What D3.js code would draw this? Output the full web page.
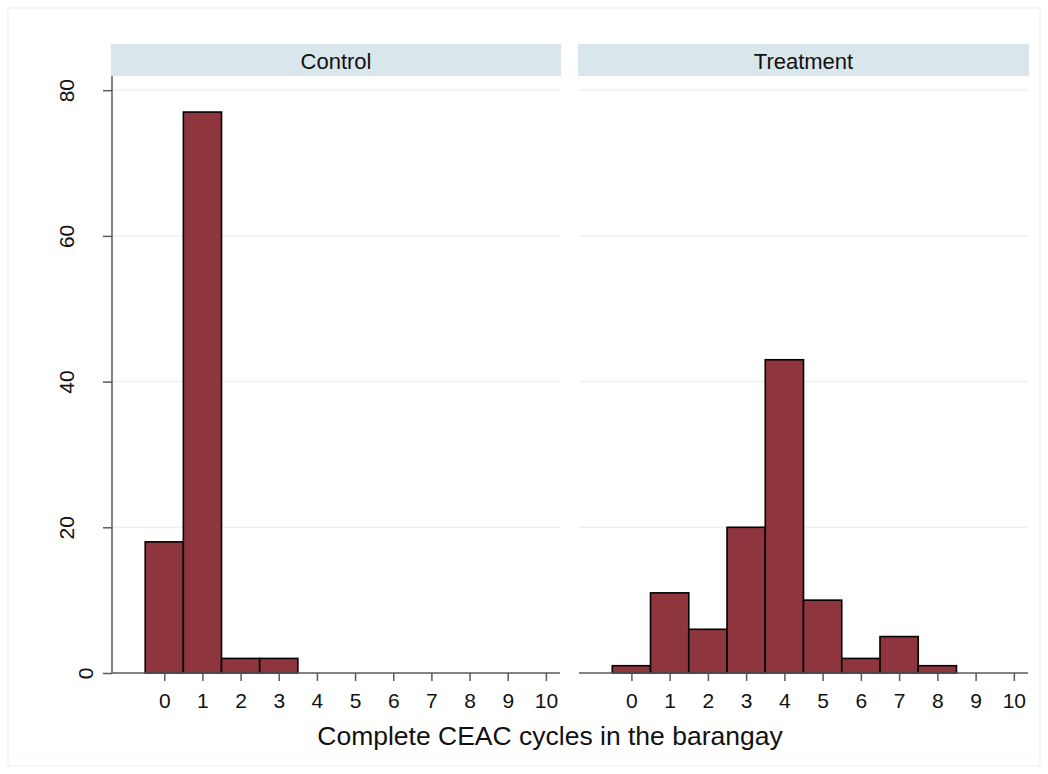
<!DOCTYPE html>
<html>
<head>
<meta charset="utf-8">
<script src="https://cdn.jsdelivr.net/npm/d3@7"></script>
<style>
  html, body { margin: 0; padding: 0; background: #ffffff; }
  svg { display: block; font-family: "Liberation Sans", Arial, Helvetica, sans-serif; }
</style>
</head>
<body>
<svg id="chart" width="1048" height="774"></svg>
<script>
// Histogram of completed CEAC cycles by barangay, split by study arm
const panels = ["Control", "Treatment"];
const cycles = [0, 1, 2, 3, 4, 5, 6, 7, 8, 9, 10];
const controlCounts = [18, 77, 2, 2, 0, 0, 0, 0, 0, 0, 0];
const treatmentCounts = [1, 11, 6, 20, 43, 10, 2, 5, 1, 0, 0];
const yTicks = [0, 20, 40, 60, 80];
const xTitle = "Complete CEAC cycles in the barangay";

const countsByPanel = { Control: controlCounts, Treatment: treatmentCounts };

const svg = d3.select("#chart");

// Outer graph region border
svg.append("rect")
  .attr("x", 8).attr("y", 8)
  .attr("width", 1032).attr("height", 758)
  .attr("fill", "#ffffff")
  .attr("stroke", "#eaf2f3")
  .attr("stroke-width", 1.2);

const plotTop = 76, plotBottom = 673;
const panelBoxes = [
  { left: 112, right: 560 },
  { left: 579, right: 1028 }
];

const y = d3.scaleLinear().domain([0, 80]).range([plotBottom, 90.2]);

const barFill = "#8f353d";
const axisColor = "#5a5a5a";
const gridColor = "#eaf2f3";

panels.forEach((name, i) => {
  const box = panelBoxes[i];
  const x = d3.scaleLinear().domain([-1.37, 10.37]).range([box.left, box.right]);
  const g = svg.append("g");

  // strip header
  g.append("rect")
    .attr("x", box.left - 1).attr("y", 44)
    .attr("width", box.right - box.left + 2).attr("height", 32)
    .attr("fill", "#d9e6eb");
  g.append("text")
    .attr("x", (box.left + box.right) / 2).attr("y", 69)
    .attr("text-anchor", "middle")
    .attr("font-size", 22)
    .attr("fill", "#111")
    .text(name);

  // horizontal gridlines
  g.selectAll("line.grid")
    .data(yTicks.filter(t => t > 0))
    .join("line")
    .attr("class", "grid")
    .attr("x1", box.left).attr("x2", box.right)
    .attr("y1", d => y(d)).attr("y2", d => y(d))
    .attr("stroke", gridColor)
    .attr("stroke-width", 1.5);

  // bars, one per integer bin
  const data = cycles.map((c, k) => ({ c, n: countsByPanel[name][k] })).filter(d => d.n > 0);
  g.selectAll("rect.bar")
    .data(data)
    .join("rect")
    .attr("class", "bar")
    .attr("x", d => x(d.c - 0.5))
    .attr("width", d => x(d.c + 0.5) - x(d.c - 0.5))
    .attr("y", d => y(d.n))
    .attr("height", d => y(0) - y(d.n))
    .attr("fill", barFill)
    .attr("stroke", "#000")
    .attr("stroke-width", 1.6);

  // x axis
  const xAxis = d3.axisBottom(x)
    .tickValues(cycles)
    .tickSize(8)
    .tickPadding(8)
    .tickFormat(d3.format("d"));
  const xg = g.append("g")
    .attr("transform", `translate(0,${plotBottom})`)
    .call(xAxis);
  xg.select(".domain")
    .attr("d", `M${box.left},0H${box.right}`)
    .attr("stroke", axisColor)
    .attr("stroke-width", 1.5);
  xg.selectAll(".tick line").attr("stroke", axisColor).attr("stroke-width", 1.5);
  xg.selectAll(".tick text")
    .attr("font-size", 21)
    .attr("font-family", "Liberation Sans, Arial, sans-serif")
    .attr("fill", "#111")
    .attr("dy", null)
    .attr("y", 35);

  // y axis only on the first panel
  if (i === 0) {
    const yAxis = d3.axisLeft(y)
      .tickValues(yTicks)
      .tickSize(9)
      .tickFormat(d3.format("d"));
    const yg = g.append("g")
      .attr("transform", `translate(${box.left},0)`)
      .call(yAxis);
    yg.select(".domain")
      .attr("d", `M0,${plotTop}V${plotBottom}`)
      .attr("stroke", axisColor)
      .attr("stroke-width", 1.5);
    yg.selectAll(".tick line").attr("stroke", axisColor).attr("stroke-width", 1.5);
    yg.selectAll(".tick text")
      .attr("font-size", 21)
      .attr("font-family", "Liberation Sans, Arial, sans-serif")
      .attr("fill", "#111")
      .attr("text-anchor", "middle")
      .attr("dy", null)
      .attr("x", null)
      .attr("transform", d => `translate(${d === 0 ? -19 : -38},0) rotate(-90)`);
  }
});

// shared x-axis title
svg.append("text")
  .attr("x", 550).attr("y", 745)
  .attr("text-anchor", "middle")
  .attr("font-size", 26.5)
  .attr("fill", "#111")
  .text(xTitle);
</script>
</body>
</html>
